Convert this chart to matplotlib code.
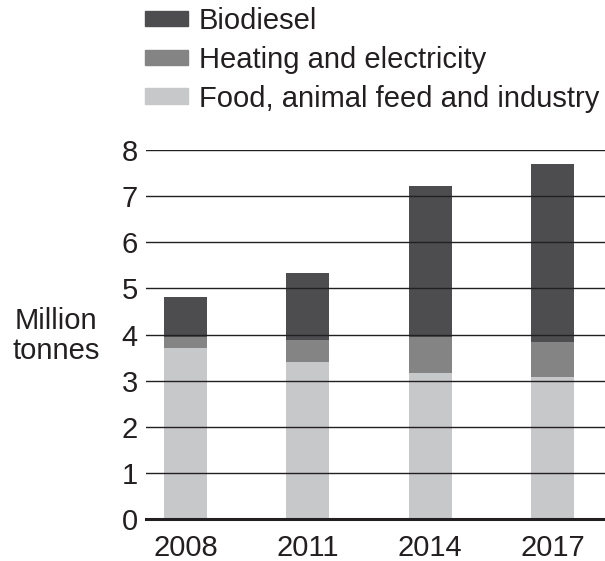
import matplotlib
matplotlib.use("Agg")
import matplotlib.pyplot as plt
from matplotlib.patches import Patch

years = ["2008", "2011", "2014", "2017"]
food = [3.71, 3.41, 3.17, 3.08]
heating = [0.24, 0.47, 0.78, 0.76]
biodiesel = [0.87, 1.46, 3.27, 3.86]
yticks = [0, 1, 2, 3, 4, 5, 6, 7, 8]

c_bio = "#4d4d4f"
c_heat = "#848485"
c_food = "#c7c8ca"

plt.rcParams["font.family"] = ["Liberation Sans", "DejaVu Sans"]
FS = 21

fig = plt.figure(figsize=(6.05, 5.61), dpi=100)
W, H = 605, 561
left, right, bot, top = 146, 605, 519, 150
ax = fig.add_axes([left / W, 1 - bot / H, (right - left) / W, (bot - top) / H])

x = list(range(len(years)))
bw = 0.35
ax.bar(x, food, bw, color=c_food, zorder=1)
ax.bar(x, heating, bw, bottom=food, color=c_heat, zorder=1)
bottom3 = [f + h for f, h in zip(food, heating)]
ax.bar(x, biodiesel, bw, bottom=bottom3, color=c_bio, zorder=1)

ax.set_ylim(0, 8)
ax.set_xlim(-0.323, 3.43)
ax.set_yticks(yticks)
ax.set_yticklabels([str(t) for t in yticks])
ax.set_xticks(x)
ax.set_xticklabels(years)
ax.tick_params(axis="both", length=0, labelsize=FS, colors="#231f20")
ax.tick_params(axis="y", pad=6)
ax.tick_params(axis="x", pad=11)

for t in yticks[1:]:
    ax.axhline(t, color="#231f20", lw=1.0, zorder=3)

for s in ["left", "right", "top"]:
    ax.spines[s].set_visible(False)
ax.spines["bottom"].set_color("#231f20")
ax.spines["bottom"].set_linewidth(2.2)
ax.spines["bottom"].set_zorder(4)

fig.text(56 / W, 1 - 336 / H, "Million\ntonnes", ha="center", va="center",
         fontsize=FS, color="#231f20", linespacing=1.05)

handles = [Patch(color=c_bio), Patch(color=c_heat), Patch(color=c_food)]
labels = ["Biodiesel", "Heating and electricity", "Food, animal feed and industry"]
leg = fig.legend(handles, labels, loc="upper left",
                 bbox_to_anchor=(145 / W, 1 - 7 / H), frameon=False,
                 fontsize=FS, borderpad=0, borderaxespad=0,
                 handlelength=43 / 29.2, handleheight=13 / 29.2,
                 handletextpad=0.38, labelspacing=0.37)
for t in leg.get_texts():
    t.set_color("#231f20")

fig.savefig("out.png", dpi=100)
